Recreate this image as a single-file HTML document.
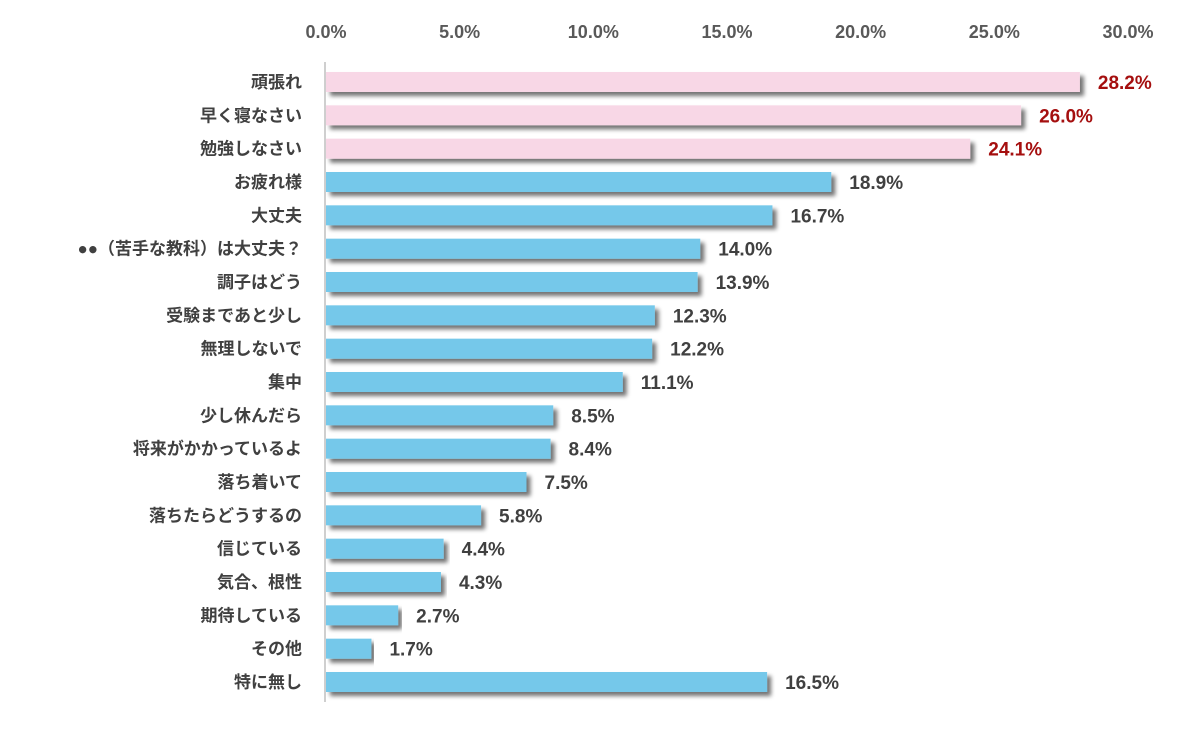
<!DOCTYPE html>
<html><head><meta charset="utf-8"><style>
body{margin:0;background:#fff;}
svg text{font-family:"Liberation Sans","Noto Sans CJK JP",sans-serif;font-weight:bold;}
</style></head><body>
<svg id="chart" width="1200" height="736" viewBox="0 0 1200 736" xmlns="http://www.w3.org/2000/svg">
<defs><filter id="sh" x="-5%" y="-50%" width="110%" height="250%"><feGaussianBlur in="SourceAlpha" stdDeviation="2"/><feOffset dx="4" dy="4"/><feComponentTransfer><feFuncA type="linear" slope="0.55"/></feComponentTransfer><feMerge><feMergeNode/><feMergeNode in="SourceGraphic"/></feMerge></filter></defs>
<g id="axis"></g>
<g id="bars"></g>
</svg>
<script>
const categories=["頑張れ","早く寝なさい","勉強しなさい","お疲れ様","大丈夫","●●（苦手な教科）は大丈夫？","調子はどう","受験まであと少し","無理しないで","集中","少し休んだら","将来がかかっているよ","落ち着いて","落ちたらどうするの","信じている","気合、根性","期待している","その他","特に無し"];
const values=[28.2,26.0,24.1,18.9,16.7,14.0,13.9,12.3,12.2,11.1,8.5,8.4,7.5,5.8,4.4,4.3,2.7,1.7,16.5];
const highlighted=[true,true,true,false,false,false,false,false,false,false,false,false,false,false,false,false,false,false,false];
const ticks=[0,5,10,15,20,25,30];
const NS="http://www.w3.org/2000/svg";
const x0=326,x1=1128,xmax=30;
const xs=v=>x0+(x1-x0)*v/xmax;
const y0=82,pitch=(682-82)/(categories.length-1);
const ys=i=>y0+i*pitch;
const ax=document.getElementById('axis'),bg=document.getElementById('bars');
function mk(t,a,p){const e=document.createElementNS(NS,t);for(const k in a)e.setAttribute(k,a[k]);p.appendChild(e);return e;}
ticks.forEach(t=>{const e=mk('text',{x:xs(t),y:38,'text-anchor':'middle','font-size':18,fill:'#595959'},ax);


e.textContent=t.toFixed(1)+'%';});
const line=mk('line',{x1:325,x2:325,y1:62,y2:702,stroke:'#bfbfbf','stroke-width':1.5},ax);


categories.forEach((c,i)=>{const y=ys(i);
const l=mk('text',{x:302,y:y+6,'text-anchor':'end','font-size':17,fill:'#404040'},bg);


l.textContent=c;
const r=mk('rect',{x:x0,y:y-10,width:xs(values[i])-x0,height:20,fill:highlighted[i]?'#f8d7e6':'#75c8ea',filter:'url(#sh)'},bg);


const v=mk('text',{x:xs(values[i])+18,y:y+7,'font-size':19,fill:highlighted[i]?'#a50f0f':'#404040'},bg);


v.textContent=values[i].toFixed(1)+'%';});
</script>
</body></html>
